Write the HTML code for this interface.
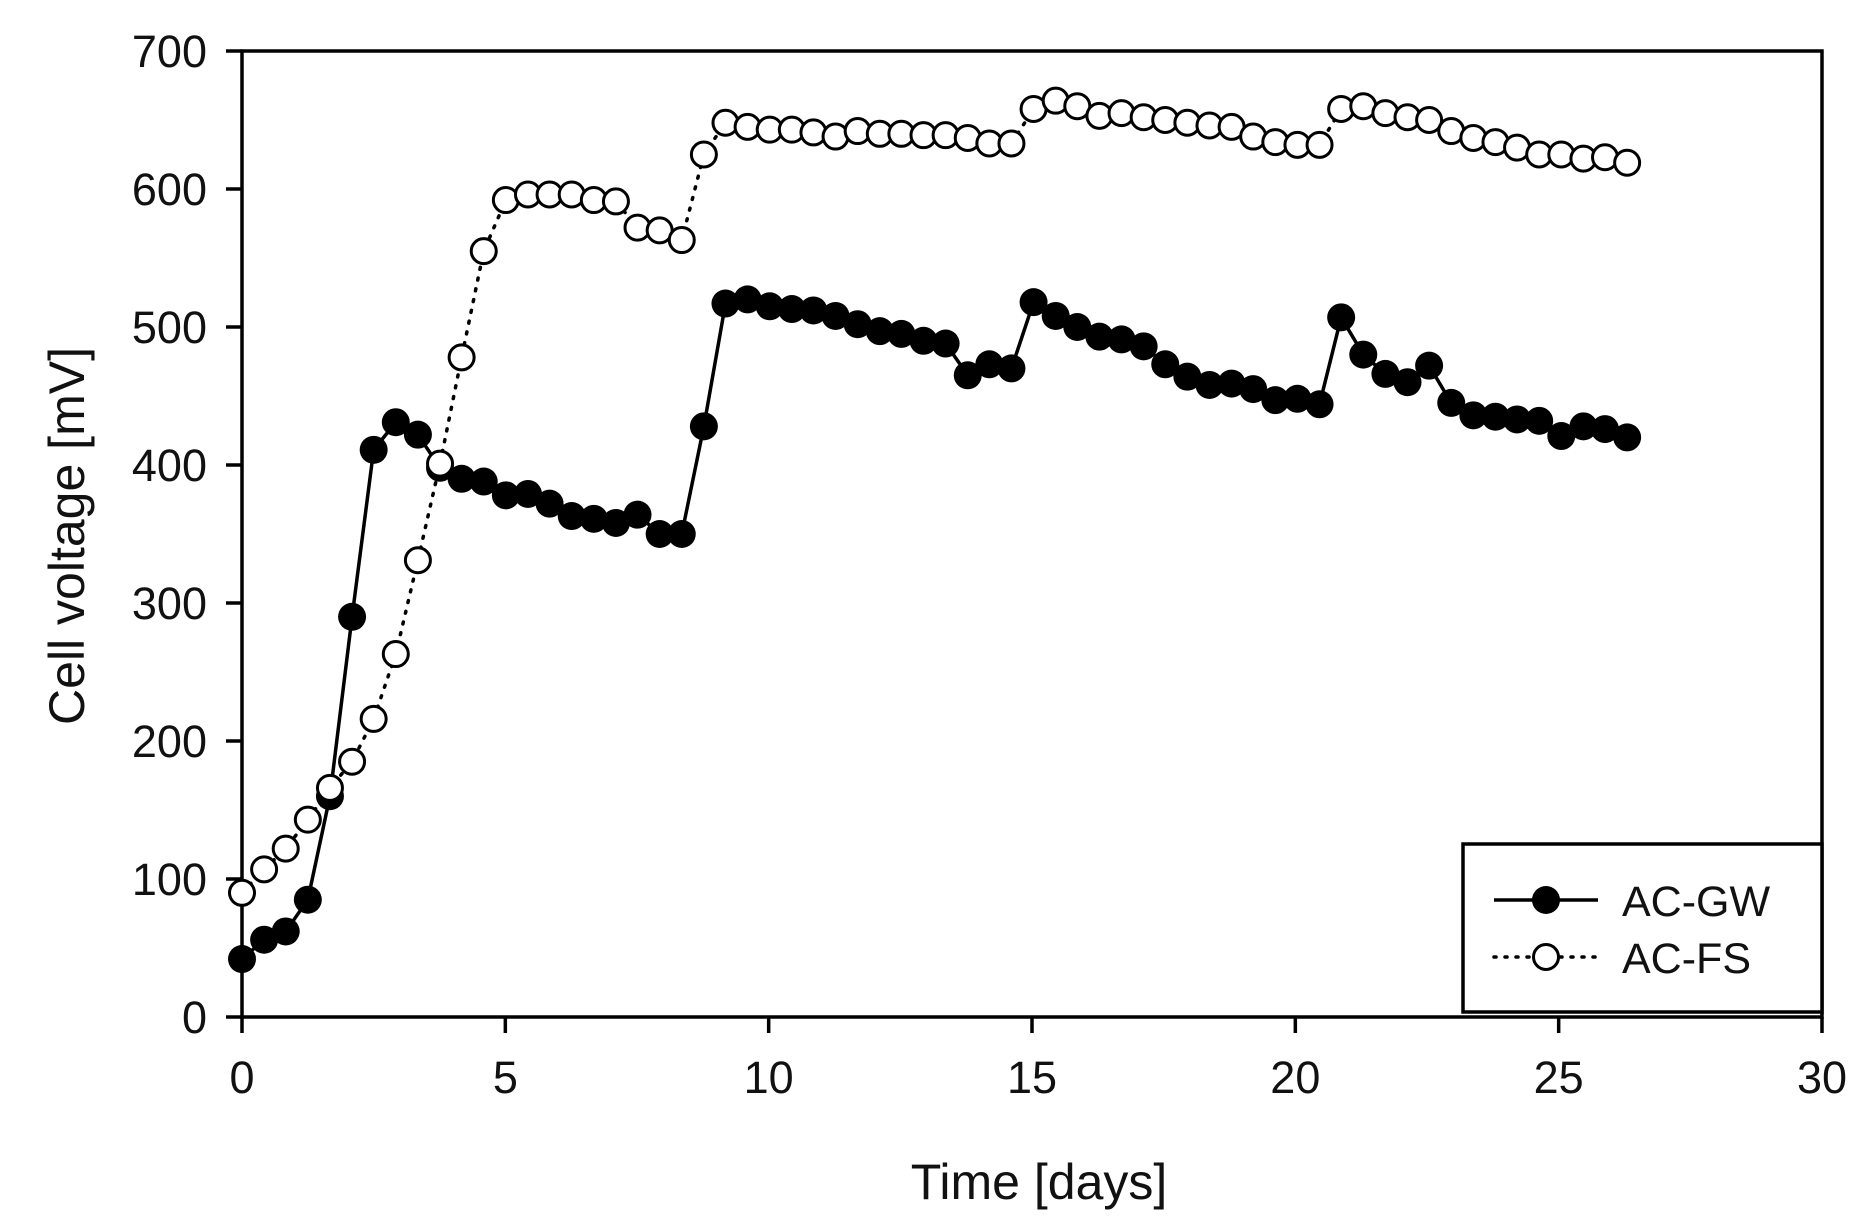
<!DOCTYPE html>
<html><head><meta charset="utf-8"><style>
html,body{margin:0;padding:0;background:#fff;}
svg{display:block;font-family:"Liberation Sans",Arial,sans-serif;}
</style></head><body>
<svg id="chart" width="1871" height="1228" viewBox="0 0 1871 1228" xmlns="http://www.w3.org/2000/svg"></svg>
<script>
const xTicks=[0,5,10,15,20,25,30];
const yTicks=[0,100,200,300,400,500,600,700];
const gwVals=[42,56,62,85,160,290,411,431,422,398,390,388,378,379,372,363,361,358,364,350,350,428,517,520,515,513,512,508,502,497,495,490,488,465,473,470,518,508,500,493,491,486,473,464,458,459,455,447,448,444,507,480,466,460,472,445,436,435,433,432,421,428,426,420];
const fsVals=[90,107,122,143,166,185,216,263,331,401,478,555,592,596,596,596,592,591,572,570,563,625,648,645,643,643,641,638,642,640,640,639,639,637,633,633,658,664,660,653,655,652,650,648,646,645,638,634,632,632,658,660,655,652,650,642,637,634,630,625,625,622,623,619];
const timeDays=gwVals.map((v,i)=>+(i*26.3/63).toFixed(2));

const L=242,R=1822,T=51,B=1017;
const sx=d=>L+(d/30)*(R-L);
const sy=v=>B-(v/700)*(B-T);
const NS="http://www.w3.org/2000/svg";
const svg=document.getElementById('chart');
function mk(tag,attrs,parent){const e=document.createElementNS(NS,tag);for(const k in attrs)e.setAttribute(k,attrs[k]);(parent||svg).appendChild(e);return e;}

let ax=mk('path',{d:`M${L},${T} H${R} V${B} H${L} Z`,fill:'none',stroke:'#000','stroke-width':3.5});



yTicks.forEach(v=>{
  const y=sy(v);
  const t=mk('line',{x1:L-16,x2:L,y1:y,y2:y,stroke:'#000','stroke-width':3.5});
  
  
  const tx=mk('text',{x:207,y:y+16,'font-size':45,'text-anchor':'end',fill:'#111'});
  tx.textContent=v;
  
  
});
xTicks.forEach(d=>{
  const x=sx(d);
  const t=mk('line',{x1:x,x2:x,y1:B,y2:B+16,stroke:'#000','stroke-width':3.5});
  
  
  const tx=mk('text',{x:x,y:1093,'font-size':45,'text-anchor':'middle',fill:'#111'});
  tx.textContent=d;
  
  
});

const fsLine=mk('polyline',{points:timeDays.map((d,i)=>sx(d)+','+sy(fsVals[i])).join(' '),fill:'none',stroke:'#000','stroke-width':3.5,'stroke-dasharray':'2 9','stroke-linecap':'round'});


const gwLine=mk('polyline',{points:timeDays.map((d,i)=>sx(d)+','+sy(gwVals[i])).join(' '),fill:'none',stroke:'#000','stroke-width':3.5});


timeDays.forEach((d,i)=>{
  const c=mk('circle',{cx:sx(d),cy:sy(gwVals[i]),r:14,fill:'#000'});
  
  
});
timeDays.forEach((d,i)=>{
  const c=mk('circle',{cx:sx(d),cy:sy(fsVals[i]),r:12.5,fill:'#fff',stroke:'#000','stroke-width':3});
  
  
});

const lg=mk('g',{});


mk('rect',{x:1463,y:844,width:R-1463,height:168,fill:'#fff',stroke:'#000','stroke-width':3.5},lg);
mk('line',{x1:1494,x2:1598,y1:900,y2:900,stroke:'#000','stroke-width':3.5},lg);
mk('circle',{cx:1546,cy:900,r:14,fill:'#000'},lg);
let t1=mk('text',{x:1622,y:916,'font-size':43,fill:'#111'},lg);t1.textContent='AC-GW';


mk('line',{x1:1494,x2:1598,y1:957,y2:957,stroke:'#000','stroke-width':3.5,'stroke-dasharray':'2 9','stroke-linecap':'round'},lg);
mk('circle',{cx:1546,cy:957,r:12.5,fill:'#fff',stroke:'#000','stroke-width':3},lg);
let t2=mk('text',{x:1622,y:973,'font-size':43,fill:'#111'},lg);t2.textContent='AC-FS';



let xt=mk('text',{x:1039,y:1199,'font-size':50,'text-anchor':'middle',fill:'#111'});
xt.textContent='Time [days]';


let yt=mk('text',{x:0,y:0,'font-size':50,'text-anchor':'middle',fill:'#111',transform:'translate(84,536) rotate(-90)'});
yt.textContent='Cell voltage [mV]';


</script>
</body></html>
